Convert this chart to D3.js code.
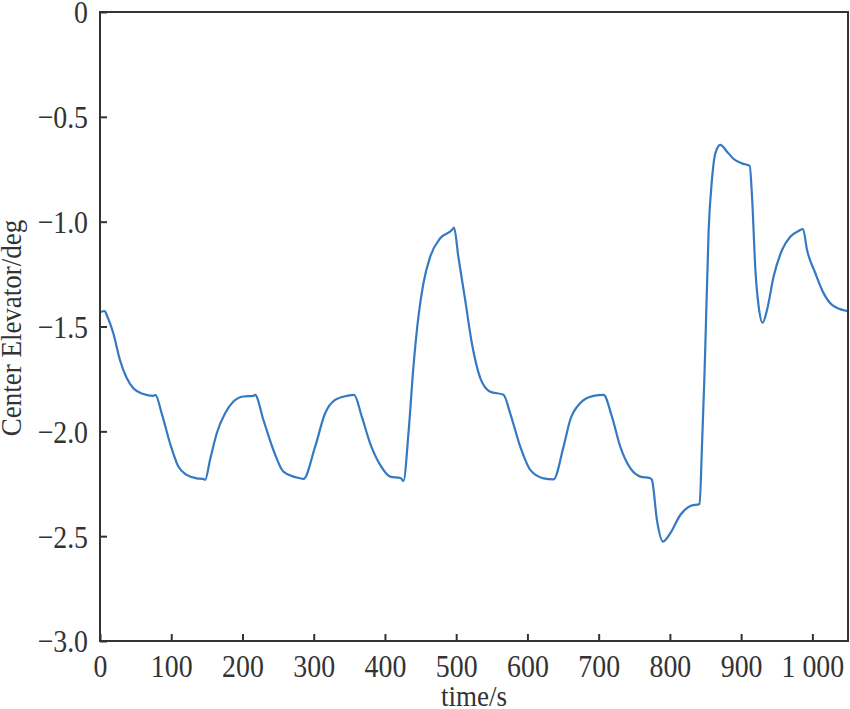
<!DOCTYPE html>
<html><head><meta charset="utf-8">
<script src="https://cdn.jsdelivr.net/npm/d3@7"></script>
<style>body{margin:0;background:#fff}svg{display:block}text{font-family:"Liberation Serif","Times New Roman",serif;fill:#333}</style>
</head><body><svg id="c" width="850" height="709"></svg>
<script>
const timeS = [0,6.6,9.4,18.7,28,37.5,46.8,60.9,74.9,77.7,86.6,98.3,110,121.7,135.8,145,147.5,154.5,163.9,175.6,187.3,201.3,215.3,217.7,229.4,243.4,257.5,280.9,285.6,302,316,330,346.5,356.7,367.5,379.2,393.3,407.3,422.3,426,433,440,447,454,463.5,477.5,494,497,503,512.6,522,533.7,547.8,566.4,575.8,589.9,604,622.6,636.7,650.7,660,674,692.8,706.9,718.6,730.3,744.4,758.4,772.5,774.8,781.8,790.3,800.6,814.6,828.7,841.7,845,848.3,849.7,854.4,859,863.8,870.8,880.2,889.5,901.2,912,915.3,920,924.6,930.2,936.3,945.6,957.4,969,980.8,986.8,992.5,1004.2,1015.9,1027.6,1048.7];
const elevator = [-1.432,-1.426,-1.445,-1.532,-1.66,-1.746,-1.795,-1.822,-1.831,-1.826,-1.914,-2.057,-2.168,-2.208,-2.224,-2.227,-2.232,-2.136,-2.009,-1.914,-1.858,-1.834,-1.831,-1.826,-1.946,-2.089,-2.192,-2.224,-2.227,-2.073,-1.914,-1.85,-1.831,-1.826,-1.93,-2.057,-2.16,-2.216,-2.224,-2.237,-2.009,-1.691,-1.453,-1.294,-1.167,-1.079,-1.04,-1.028,-1.167,-1.373,-1.58,-1.745,-1.811,-1.826,-1.914,-2.073,-2.184,-2.224,-2.229,-2.073,-1.946,-1.866,-1.831,-1.826,-1.93,-2.073,-2.176,-2.216,-2.224,-2.232,-2.423,-2.526,-2.486,-2.399,-2.356,-2.346,-2.073,-1.755,-1.596,-1.04,-0.801,-0.674,-0.634,-0.666,-0.701,-0.722,-0.734,-0.881,-1.23,-1.405,-1.482,-1.421,-1.262,-1.135,-1.072,-1.044,-1.035,-1.135,-1.246,-1.342,-1.397,-1.426];
const xTicks = [0,100,200,300,400,500,600,700,800,900,1000];
const xTickLabels = ["0","100","200","300","400","500","600","700","800","900","1 000"];
const yTicks = [0,-0.5,-1.0,-1.5,-2.0,-2.5,-3.0];
const yTickLabels = ["0","\u22120.5","\u22121.0","\u22121.5","\u22122.0","\u22122.5","\u22123.0"];
const xTitle = "time/s", yTitle = "Center Elevator/deg";

const L=100,R=848,T=12,B=641;
const svg=d3.select("#c");
const x=d3.scaleLinear().domain([0,1050]).range([L,R]);
const y=d3.scaleLinear().domain([-3,0]).range([B,T]);

const line=d3.line().x((d,i)=>x(timeS[i])).y(d=>y(d)).curve(d3.curveMonotoneX);
svg.append("path").datum(elevator).attr("d",line).attr("fill","none")
  .attr("stroke","#3479c2").attr("stroke-width",2.2).attr("stroke-linejoin","round");

svg.append("rect").attr("x",L).attr("y",T).attr("width",R-L).attr("height",B-T)
  .attr("fill","none").attr("stroke","#333").attr("stroke-width",2);

const fs=32, sx=0.87;
const xa=svg.append("g").attr("transform",`translate(0,${B})`)
  .call(d3.axisBottom(x).tickValues(xTicks).tickSize(-7).tickPadding(13).tickFormat((d,i)=>xTickLabels[i]));
const ya=svg.append("g").attr("transform",`translate(${L},0)`)
  .call(d3.axisLeft(y).tickValues(yTicks).tickSize(-7).tickPadding(12).tickFormat((d,i)=>yTickLabels[i]));
[xa,ya].forEach(a=>{a.select(".domain").remove();
  a.selectAll(".tick line").attr("stroke","#333").attr("stroke-width",2);
  a.selectAll(".tick text").attr("font-size",fs).attr("font-family","Liberation Serif").attr("fill","#333");});
xa.selectAll(".tick text").attr("dy","0.71em").attr("transform",`scale(${sx},1)`);
ya.selectAll(".tick text").attr("dy","0.34em").attr("x",-12/sx).attr("transform",`scale(${sx},1)`);

svg.append("text").attr("transform",`translate(${(L+R)/2},706) scale(0.9,1)`).attr("text-anchor","middle")
  .attr("font-size",30).text(xTitle);
svg.append("text").attr("transform",`translate(21,328) rotate(-90) scale(0.9,1)`).attr("text-anchor","middle")
  .attr("font-size",30).text(yTitle);
</script></body></html>
